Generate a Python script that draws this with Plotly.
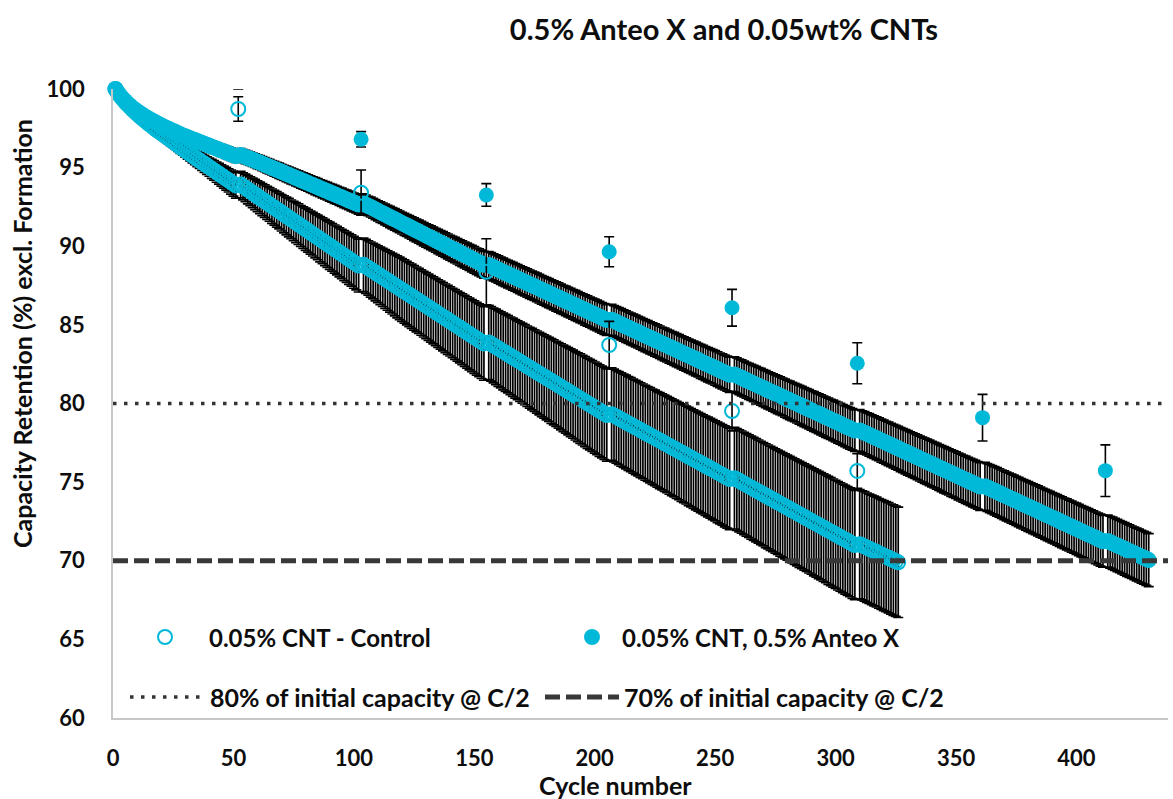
import sys
import plotly.graph_objects as go

# ---------------- data ----------------
title_text = "0.5% Anteo X and 0.05wt% CNTs"
x_title = "Cycle number"
y_title = "Capacity Retention (%) excl. Formation"
name_control = "0.05% CNT - Control"
name_anteo = "0.05% CNT, 0.5% Anteo X"
name_80 = "80% of initial capacity @ C/2"
name_70 = "70% of initial capacity @ C/2"
x_ticks = [0, 50, 100, 150, 200, 250, 300, 350, 400]
y_ticks = [60, 65, 70, 75, 80, 85, 90, 95, 100]
limit_80 = 80
limit_70 = 70

# check-up (RPT) cycles, shown as separate points
control_checkup_cycles = [52, 103, 155, 206, 257, 309]
control_checkup_values = [98.73, 93.41, 88.38, 83.72, 79.52, 75.71]
control_checkup_err = [0.78, 1.44, 2.10, 1.50, 1.26, 1.10]

anteo_checkup_cycles = [52, 103, 155, 206, 257, 309, 361, 412]
anteo_checkup_values = [100.25, 96.80, 93.26, 89.65, 86.09, 82.56, 79.10, 75.73]
anteo_checkup_err = [0.25, 0.49, 0.72, 0.95, 1.17, 1.30, 1.48, 1.64]

control_last_cycle = 326
anteo_last_cycle = 430

# regular cycling (every cycle, check-up cycles excluded)
control_values = [
    100.00, 99.77, 99.56, 99.37, 99.19, 99.02, 98.86, 98.71, 98.56, 98.42,
    98.28, 98.15, 98.02, 97.89, 97.77, 97.65, 97.53, 97.41, 97.30, 97.19,
    97.08, 96.97, 96.86, 96.75, 96.64, 96.53, 96.42, 96.31, 96.20, 96.09,
    95.98, 95.87, 95.76, 95.66, 95.55, 95.45, 95.34, 95.24, 95.13, 95.03,
    94.92, 94.82, 94.71, 94.61, 94.50, 94.40, 94.29, 94.19, 94.08, 93.98,
    93.87, 93.92, 93.81, 93.71, 93.60, 93.50, 93.39, 93.29, 93.18,
    93.08, 92.97, 92.87, 92.76, 92.66, 92.55, 92.45, 92.34, 92.24, 92.13,
    92.03, 91.92, 91.82, 91.71, 91.61, 91.50, 91.40, 91.29, 91.19, 91.08,
    90.98, 90.87, 90.77, 90.66, 90.56, 90.45, 90.35, 90.24, 90.14, 90.03,
    89.93, 89.82, 89.72, 89.61, 89.51, 89.40, 89.30, 89.19, 89.09, 88.98,
    88.88, 88.77, 88.82, 88.72, 88.62, 88.52, 88.42, 88.32, 88.22,
    88.12, 88.02, 87.92, 87.82, 87.72, 87.62, 87.52, 87.42, 87.32, 87.22,
    87.12, 87.02, 86.92, 86.82, 86.72, 86.62, 86.52, 86.42, 86.32, 86.22,
    86.12, 86.02, 85.92, 85.82, 85.72, 85.62, 85.52, 85.42, 85.32, 85.22,
    85.12, 85.02, 84.92, 84.82, 84.72, 84.62, 84.52, 84.42, 84.32, 84.22,
    84.12, 84.02, 83.92, 83.82, 83.88, 83.79, 83.69, 83.60, 83.50,
    83.41, 83.31, 83.22, 83.13, 83.03, 82.94, 82.84, 82.75, 82.66, 82.56,
    82.47, 82.37, 82.28, 82.19, 82.09, 82.00, 81.90, 81.81, 81.72, 81.62,
    81.53, 81.43, 81.34, 81.25, 81.15, 81.06, 80.96, 80.87, 80.78, 80.68,
    80.59, 80.49, 80.40, 80.31, 80.21, 80.12, 80.02, 79.93, 79.84, 79.74,
    79.65, 79.55, 79.46, 79.37, 79.27, 79.32, 79.24, 79.15, 79.07,
    78.98, 78.90, 78.82, 78.73, 78.65, 78.56, 78.48, 78.40, 78.31, 78.23,
    78.14, 78.06, 77.98, 77.89, 77.81, 77.72, 77.64, 77.56, 77.47, 77.39,
    77.30, 77.22, 77.14, 77.05, 76.97, 76.88, 76.80, 76.72, 76.63, 76.55,
    76.46, 76.38, 76.30, 76.21, 76.13, 76.04, 75.96, 75.88, 75.79, 75.71,
    75.62, 75.54, 75.46, 75.37, 75.29, 75.20, 75.25, 75.17, 75.08,
    75.00, 74.91, 74.82, 74.74, 74.65, 74.57, 74.48, 74.40, 74.31, 74.23,
    74.14, 74.06, 73.97, 73.89, 73.80, 73.72, 73.63, 73.55, 73.46, 73.38,
    73.29, 73.21, 73.12, 73.04, 72.95, 72.87, 72.78, 72.70, 72.61, 72.53,
    72.44, 72.36, 72.27, 72.19, 72.10, 72.02, 71.93, 71.85, 71.76, 71.68,
    71.59, 71.51, 71.42, 71.34, 71.25, 71.17, 71.08, 71.00, 71.05,
    70.98, 70.91, 70.83, 70.76, 70.69, 70.62, 70.55, 70.47, 70.40, 70.33,
    70.26, 70.19, 70.11, 70.04, 69.97, 69.90,
]
control_err = [
    0.00, 0.02, 0.03, 0.05, 0.07, 0.08, 0.10, 0.12, 0.13, 0.15,
    0.16, 0.18, 0.19, 0.21, 0.22, 0.24, 0.25, 0.27, 0.28, 0.30,
    0.31, 0.32, 0.34, 0.35, 0.36, 0.37, 0.39, 0.40, 0.41, 0.42,
    0.44, 0.45, 0.46, 0.47, 0.49, 0.50, 0.52, 0.54, 0.56, 0.58,
    0.60, 0.62, 0.64, 0.66, 0.68, 0.70, 0.72, 0.74, 0.77, 0.79,
    0.81, 0.84, 0.86, 0.88, 0.90, 0.92, 0.94, 0.96, 0.98,
    1.00, 1.02, 1.03, 1.05, 1.07, 1.09, 1.11, 1.13, 1.14, 1.16,
    1.18, 1.20, 1.22, 1.23, 1.25, 1.27, 1.29, 1.30, 1.32, 1.34,
    1.35, 1.37, 1.39, 1.40, 1.42, 1.44, 1.45, 1.47, 1.48, 1.50,
    1.51, 1.53, 1.54, 1.56, 1.57, 1.59, 1.60, 1.62, 1.63, 1.65,
    1.66, 1.68, 1.70, 1.72, 1.73, 1.75, 1.77, 1.79, 1.81,
    1.83, 1.85, 1.87, 1.89, 1.91, 1.93, 1.95, 1.97, 1.99, 2.00,
    2.01, 2.02, 2.03, 2.04, 2.05, 2.06, 2.07, 2.08, 2.09, 2.10,
    2.11, 2.12, 2.13, 2.14, 2.15, 2.16, 2.17, 2.18, 2.19, 2.20,
    2.21, 2.22, 2.23, 2.24, 2.25, 2.26, 2.27, 2.28, 2.29, 2.30,
    2.31, 2.32, 2.33, 2.34, 2.36, 2.37, 2.38, 2.40, 2.41,
    2.42, 2.44, 2.45, 2.46, 2.47, 2.49, 2.50, 2.51, 2.52, 2.54,
    2.55, 2.56, 2.57, 2.59, 2.60, 2.61, 2.62, 2.64, 2.65, 2.66,
    2.67, 2.69, 2.70, 2.71, 2.72, 2.74, 2.75, 2.76, 2.77, 2.79,
    2.80, 2.81, 2.82, 2.84, 2.85, 2.86, 2.87, 2.88, 2.89, 2.90,
    2.91, 2.91, 2.92, 2.93, 2.93, 2.94, 2.95, 2.95, 2.96,
    2.97, 2.97, 2.98, 2.98, 2.99, 2.99, 3.00, 3.00, 3.01, 3.01,
    3.02, 3.02, 3.03, 3.03, 3.04, 3.04, 3.05, 3.05, 3.06, 3.06,
    3.07, 3.08, 3.08, 3.09, 3.09, 3.10, 3.11, 3.11, 3.12, 3.12,
    3.13, 3.14, 3.14, 3.15, 3.15, 3.16, 3.17, 3.17, 3.18, 3.18,
    3.19, 3.20, 3.20, 3.21, 3.21, 3.22, 3.23, 3.24, 3.24,
    3.25, 3.25, 3.26, 3.26, 3.27, 3.27, 3.28, 3.28, 3.29, 3.29,
    3.30, 3.30, 3.31, 3.31, 3.32, 3.32, 3.33, 3.33, 3.34, 3.34,
    3.35, 3.35, 3.36, 3.36, 3.37, 3.37, 3.38, 3.38, 3.39, 3.39,
    3.40, 3.40, 3.41, 3.41, 3.42, 3.42, 3.43, 3.43, 3.44, 3.44,
    3.45, 3.45, 3.45, 3.46, 3.46, 3.46, 3.47, 3.47, 3.47,
    3.47, 3.48, 3.48, 3.48, 3.48, 3.49, 3.49, 3.49, 3.49, 3.50,
    3.50, 3.50, 3.50, 3.51, 3.51, 3.51,
]

anteo_values = [
    100.00, 99.78, 99.58, 99.40, 99.24, 99.09, 98.95, 98.82, 98.70, 98.59,
    98.48, 98.38, 98.28, 98.19, 98.10, 98.01, 97.93, 97.85, 97.77, 97.69,
    97.61, 97.54, 97.47, 97.40, 97.33, 97.26, 97.19, 97.12, 97.05, 96.99,
    96.93, 96.87, 96.81, 96.75, 96.69, 96.63, 96.57, 96.51, 96.45, 96.39,
    96.33, 96.27, 96.21, 96.15, 96.09, 96.03, 95.97, 95.91, 95.85, 95.79,
    95.73, 95.80, 95.74, 95.68, 95.62, 95.56, 95.50, 95.44, 95.38,
    95.32, 95.25, 95.19, 95.12, 95.06, 94.99, 94.93, 94.86, 94.80, 94.73,
    94.67, 94.60, 94.54, 94.47, 94.41, 94.34, 94.28, 94.21, 94.15, 94.08,
    94.02, 93.95, 93.89, 93.82, 93.76, 93.69, 93.63, 93.56, 93.50, 93.43,
    93.37, 93.30, 93.24, 93.17, 93.11, 93.04, 92.98, 92.91, 92.85, 92.78,
    92.72, 92.65, 92.72, 92.64, 92.56, 92.49, 92.41, 92.33, 92.25,
    92.17, 92.10, 92.02, 91.94, 91.86, 91.78, 91.71, 91.63, 91.55, 91.47,
    91.39, 91.32, 91.24, 91.16, 91.08, 91.00, 90.93, 90.85, 90.77, 90.69,
    90.61, 90.54, 90.46, 90.38, 90.30, 90.22, 90.15, 90.07, 89.99, 89.91,
    89.83, 89.76, 89.68, 89.60, 89.52, 89.44, 89.37, 89.29, 89.21, 89.13,
    89.05, 88.98, 88.90, 88.82, 88.80, 88.73, 88.66, 88.59, 88.52,
    88.44, 88.37, 88.30, 88.23, 88.16, 88.09, 88.02, 87.95, 87.87, 87.80,
    87.73, 87.66, 87.59, 87.52, 87.45, 87.38, 87.30, 87.23, 87.16, 87.09,
    87.02, 86.95, 86.88, 86.81, 86.74, 86.66, 86.59, 86.52, 86.45, 86.38,
    86.31, 86.24, 86.17, 86.09, 86.02, 85.95, 85.88, 85.81, 85.74, 85.67,
    85.60, 85.52, 85.45, 85.38, 85.31, 85.32, 85.25, 85.18, 85.11,
    85.04, 84.96, 84.89, 84.82, 84.75, 84.68, 84.61, 84.54, 84.47, 84.39,
    84.32, 84.25, 84.18, 84.11, 84.04, 83.97, 83.90, 83.82, 83.75, 83.68,
    83.61, 83.54, 83.47, 83.40, 83.33, 83.25, 83.18, 83.11, 83.04, 82.97,
    82.90, 82.83, 82.76, 82.68, 82.61, 82.54, 82.47, 82.40, 82.33, 82.26,
    82.19, 82.11, 82.04, 81.97, 81.90, 81.83, 81.84, 81.77, 81.70,
    81.63, 81.56, 81.48, 81.41, 81.34, 81.27, 81.20, 81.13, 81.06, 80.99,
    80.91, 80.84, 80.77, 80.70, 80.63, 80.56, 80.49, 80.42, 80.34, 80.27,
    80.20, 80.13, 80.06, 79.99, 79.92, 79.85, 79.77, 79.70, 79.63, 79.56,
    79.49, 79.42, 79.35, 79.28, 79.20, 79.13, 79.06, 78.99, 78.92, 78.85,
    78.78, 78.71, 78.63, 78.56, 78.49, 78.42, 78.35, 78.28, 78.29,
    78.21, 78.14, 78.07, 78.00, 77.93, 77.86, 77.79, 77.72, 77.64, 77.57,
    77.50, 77.43, 77.36, 77.29, 77.22, 77.15, 77.07, 77.00, 76.93, 76.86,
    76.79, 76.72, 76.65, 76.58, 76.50, 76.43, 76.36, 76.29, 76.22, 76.15,
    76.08, 76.01, 75.93, 75.86, 75.79, 75.72, 75.65, 75.58, 75.51, 75.44,
    75.36, 75.29, 75.22, 75.15, 75.08, 75.01, 74.94, 74.87, 74.79, 74.72,
    74.73, 74.66, 74.59, 74.52, 74.45, 74.38, 74.31, 74.23, 74.16,
    74.09, 74.02, 73.95, 73.88, 73.81, 73.74, 73.66, 73.59, 73.52, 73.45,
    73.38, 73.31, 73.24, 73.17, 73.09, 73.02, 72.95, 72.88, 72.81, 72.74,
    72.67, 72.60, 72.52, 72.45, 72.38, 72.31, 72.24, 72.17, 72.10, 72.03,
    71.95, 71.88, 71.81, 71.74, 71.67, 71.60, 71.53, 71.46, 71.38, 71.31,
    71.24, 71.25, 71.18, 71.11, 71.04, 70.97, 70.90, 70.83, 70.76,
    70.68, 70.61, 70.54, 70.47, 70.40, 70.33, 70.26, 70.19, 70.12, 70.04,
]
anteo_err = [
    0.00, 0.01, 0.02, 0.03, 0.04, 0.05, 0.06, 0.07, 0.08, 0.10,
    0.11, 0.12, 0.13, 0.13, 0.14, 0.15, 0.16, 0.17, 0.18, 0.19,
    0.19, 0.20, 0.21, 0.22, 0.23, 0.23, 0.24, 0.25, 0.26, 0.27,
    0.27, 0.28, 0.29, 0.29, 0.30, 0.31, 0.31, 0.32, 0.33, 0.33,
    0.34, 0.35, 0.35, 0.36, 0.37, 0.37, 0.38, 0.39, 0.39, 0.40,
    0.40, 0.41, 0.41, 0.42, 0.42, 0.42, 0.43, 0.43, 0.44,
    0.44, 0.45, 0.45, 0.46, 0.46, 0.46, 0.47, 0.47, 0.48, 0.48,
    0.48, 0.49, 0.49, 0.50, 0.50, 0.50, 0.51, 0.51, 0.52, 0.52,
    0.52, 0.53, 0.53, 0.54, 0.54, 0.54, 0.55, 0.55, 0.56, 0.56,
    0.56, 0.57, 0.57, 0.58, 0.58, 0.58, 0.59, 0.59, 0.60, 0.60,
    0.60, 0.61, 0.61, 0.62, 0.62, 0.63, 0.63, 0.64, 0.64,
    0.65, 0.65, 0.66, 0.66, 0.67, 0.67, 0.68, 0.68, 0.69, 0.69,
    0.70, 0.70, 0.71, 0.71, 0.72, 0.72, 0.73, 0.73, 0.74, 0.74,
    0.75, 0.75, 0.76, 0.76, 0.77, 0.77, 0.78, 0.78, 0.79, 0.79,
    0.80, 0.80, 0.81, 0.81, 0.82, 0.82, 0.83, 0.83, 0.84, 0.84,
    0.84, 0.85, 0.85, 0.85, 0.86, 0.86, 0.86, 0.86, 0.87,
    0.87, 0.87, 0.87, 0.88, 0.88, 0.88, 0.88, 0.89, 0.89, 0.89,
    0.89, 0.90, 0.90, 0.90, 0.90, 0.91, 0.91, 0.91, 0.91, 0.92,
    0.92, 0.92, 0.92, 0.93, 0.93, 0.93, 0.93, 0.94, 0.94, 0.94,
    0.94, 0.95, 0.95, 0.95, 0.95, 0.96, 0.96, 0.96, 0.96, 0.97,
    0.97, 0.97, 0.97, 0.98, 0.98, 0.98, 0.98, 0.99, 0.99,
    0.99, 0.99, 1.00, 1.00, 1.00, 1.00, 1.01, 1.01, 1.01, 1.01,
    1.02, 1.02, 1.02, 1.02, 1.03, 1.03, 1.03, 1.03, 1.04, 1.04,
    1.04, 1.04, 1.05, 1.05, 1.05, 1.05, 1.06, 1.06, 1.06, 1.06,
    1.07, 1.07, 1.07, 1.08, 1.08, 1.08, 1.09, 1.09, 1.09, 1.10,
    1.10, 1.10, 1.11, 1.11, 1.11, 1.12, 1.12, 1.13, 1.13,
    1.14, 1.14, 1.14, 1.15, 1.15, 1.16, 1.16, 1.16, 1.17, 1.17,
    1.18, 1.18, 1.18, 1.19, 1.19, 1.20, 1.20, 1.20, 1.21, 1.21,
    1.22, 1.22, 1.22, 1.23, 1.23, 1.24, 1.24, 1.24, 1.25, 1.25,
    1.26, 1.26, 1.26, 1.27, 1.27, 1.28, 1.28, 1.28, 1.29, 1.29,
    1.30, 1.30, 1.30, 1.31, 1.31, 1.32, 1.32, 1.32, 1.33,
    1.33, 1.34, 1.34, 1.35, 1.35, 1.35, 1.36, 1.36, 1.37, 1.37,
    1.37, 1.38, 1.38, 1.39, 1.39, 1.39, 1.40, 1.40, 1.41, 1.41,
    1.41, 1.42, 1.42, 1.43, 1.43, 1.43, 1.44, 1.44, 1.45, 1.45,
    1.45, 1.46, 1.46, 1.46, 1.47, 1.47, 1.47, 1.48, 1.48, 1.48,
    1.49, 1.49, 1.49, 1.50, 1.50, 1.50, 1.51, 1.51, 1.51, 1.52,
    1.52, 1.52, 1.53, 1.53, 1.53, 1.54, 1.54, 1.54, 1.55,
    1.55, 1.55, 1.56, 1.56, 1.56, 1.57, 1.57, 1.57, 1.57, 1.58,
    1.58, 1.58, 1.58, 1.59, 1.59, 1.59, 1.59, 1.60, 1.60, 1.60,
    1.60, 1.61, 1.61, 1.61, 1.61, 1.62, 1.62, 1.62, 1.62, 1.63,
    1.63, 1.63, 1.63, 1.64, 1.64, 1.64, 1.64, 1.64, 1.65, 1.65,
    1.65, 1.65, 1.65, 1.66, 1.66, 1.66, 1.66, 1.66, 1.67,
    1.67, 1.67, 1.67, 1.67, 1.68, 1.68, 1.68, 1.68, 1.68, 1.68,
]

# ---------------- build ----------------
control_cycles = [c for c in range(1, control_last_cycle + 1) if c not in control_checkup_cycles]
anteo_cycles = [c for c in range(1, anteo_last_cycle + 1) if c not in anteo_checkup_cycles]


def fit(name, xs, *arrs):
    n = min([len(xs)] + [len(a) for a in arrs])
    if any(len(a) != len(xs) for a in arrs):
        print(f"WARNING {name}: lengths {len(xs)} vs {[len(a) for a in arrs]}", file=sys.stderr)
    return [xs[:n]] + [a[:n] for a in arrs]


control_cycles, control_values, control_err = fit("control", control_cycles, control_values, control_err)
anteo_cycles, anteo_values, anteo_err = fit("anteo", anteo_cycles, anteo_values, anteo_err)

FONT = "Lato, 'Open Sans', 'DejaVu Sans', sans-serif"
CYAN = "#00B9D8"
TXT = "#0d0d0d"
W, H = 1173, 799
L, R, T, B = 113, 5, 89, 81
PW, PH = W - L - R, H - T - B


def px(x):
    return (x - L) / PW


def py(y):
    return (H - B - y) / PH


fig = go.Figure()

fig.add_trace(go.Scatter(
    x=control_cycles, y=control_values, mode="markers", name=name_control,
    showlegend=False, cliponaxis=False,
    marker=dict(symbol="circle-open", size=14, color=CYAN, line=dict(width=2, color=CYAN)),
    error_y=dict(type="data", array=control_err, visible=True, color="black", thickness=1.7, width=5),
))
fig.add_trace(go.Scatter(
    x=anteo_cycles, y=anteo_values, mode="markers", name=name_anteo,
    showlegend=False, cliponaxis=False,
    marker=dict(symbol="circle", size=16, color=CYAN),
    error_y=dict(type="data", array=anteo_err, visible=True, color="black", thickness=1.7, width=5),
))
fig.add_trace(go.Scatter(
    x=control_checkup_cycles, y=control_checkup_values, mode="markers", name=name_control,
    showlegend=False, cliponaxis=False,
    marker=dict(symbol="circle-open", size=14, color=CYAN, line=dict(width=2, color=CYAN)),
    error_y=dict(type="data", array=control_checkup_err, visible=True, color="black", thickness=1.6, width=5),
))
fig.add_trace(go.Scatter(
    x=anteo_checkup_cycles, y=anteo_checkup_values, mode="markers", name=name_anteo,
    showlegend=False, cliponaxis=False,
    marker=dict(symbol="circle", size=15, color=CYAN),
    error_y=dict(type="data", array=anteo_checkup_err, visible=True, color="black", thickness=1.6, width=5),
))

shapes = [
    dict(type="line", xref="paper", x0=0, x1=1, yref="y", y0=limit_80, y1=limit_80,
         line=dict(color="#333333", width=3.5, dash="3.5px,7.5px"), layer="above"),
    dict(type="line", xref="paper", x0=0, x1=1, yref="y", y0=limit_70, y1=limit_70,
         line=dict(color="#383838", width=5, dash="15px,6px"), layer="above"),
]

# manual legend (inside plot, bottom)
r = 7
for cx, filled in [(165, False), (592, True)]:
    shapes.append(dict(type="circle", xref="paper", yref="paper",
                       x0=px(cx - r), x1=px(cx + r), y0=py(637 + r), y1=py(637 - r),
                       line=dict(color=CYAN, width=2), fillcolor=CYAN if filled else "white",
                       layer="above"))
shapes.append(dict(type="line", xref="paper", yref="paper", x0=px(130), x1=px(204),
                   y0=py(697), y1=py(697), line=dict(color="#333333", width=3.5, dash="3.5px,7.5px"),
                   layer="above"))
shapes.append(dict(type="line", xref="paper", yref="paper", x0=px(545), x1=px(619),
                   y0=py(697), y1=py(697), line=dict(color="#383838", width=5, dash="15px,6px"),
                   layer="above"))

annotations = []
for tx, ty, txt, fs in [(207, 637, name_control, 24), (620, 637, name_anteo, 24),
                        (208, 697, name_80, 25), (622, 697, name_70, 25)]:
    annotations.append(dict(text="<b>" + txt + "</b>", xref="paper", yref="paper",
                            x=px(tx), y=py(ty), xanchor="left", yanchor="middle",
                            showarrow=False, font=dict(family=FONT, size=fs, color=TXT)))
annotations.append(dict(text="<b>" + x_title + "</b>", xref="paper", yref="paper",
                        x=px(615), y=py(785), xanchor="center", yanchor="middle",
                        showarrow=False, font=dict(family=FONT, size=25, color=TXT)))
annotations.append(dict(text="<b>" + y_title + "</b>", xref="paper", yref="paper",
                        x=px(22), y=py(334), xanchor="center", yanchor="middle", textangle=-90,
                        showarrow=False, font=dict(family=FONT, size=25, color=TXT)))

fig.update_layout(
    width=W, height=H,
    margin=dict(l=L, r=R, t=T, b=B, autoexpand=False),
    paper_bgcolor="white", plot_bgcolor="white",
    showlegend=False,
    title=dict(text="<b>" + title_text + "</b>", x=px(724), xref="paper", xanchor="center",
               y=1 - 30 / H, yref="container", yanchor="middle",
               font=dict(family=FONT, size=29, color=TXT)),
    shapes=shapes, annotations=annotations,
    font=dict(family=FONT),
)
fig.update_xaxes(range=[0, 438], tickvals=x_ticks, ticktext=[str(v) for v in x_ticks],
                 showgrid=False, zeroline=False, showline=True, linecolor="#C8C8C8", linewidth=1.5,
                 ticks="", ticklabelstandoff=20,
                 tickfont=dict(family=FONT, size=22, color=TXT, weight="bold"))
fig.update_yaxes(range=[60, 100], tickvals=y_ticks, ticktext=[str(v) for v in y_ticks],
                 showgrid=False, zeroline=False, showline=True, linecolor="#C8C8C8", linewidth=1.5,
                 ticks="", ticklabelstandoff=22,
                 tickfont=dict(family=FONT, size=22, color=TXT, weight="bold"))

fig.write_html("out.html")
